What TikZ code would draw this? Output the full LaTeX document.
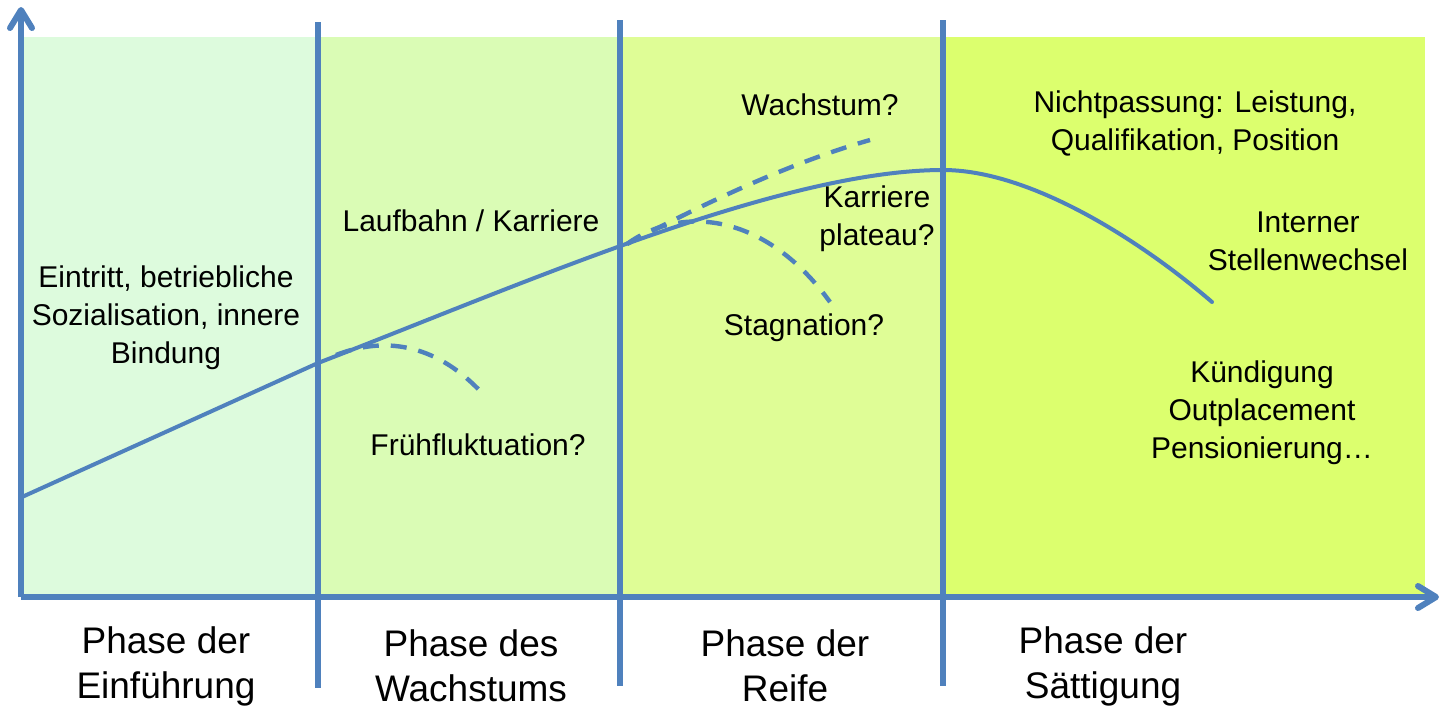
\documentclass[tikz,border=0pt]{standalone}
\usepackage{fontspec}
\setmainfont{Liberation Sans}
\usetikzlibrary{arrows.meta}
\definecolor{lineblue}{HTML}{4F81BD}
\definecolor{zoneA}{RGB}{221,251,221}
\definecolor{zoneB}{RGB}{218,252,181}
\definecolor{zoneC}{RGB}{223,253,150}
\definecolor{zoneD}{RGB}{220,255,110}
\tikzset{
  axis/.style={draw=lineblue, line width=3pt, -{Straight Barb[length=9pt,width=11pt,line cap=round,line join=round]}},
  divider/.style={draw=lineblue, line width=2.7pt},
  maincurve/.style={draw=lineblue, line width=2pt},
  dashcurve/.style={draw=lineblue, line width=2.2pt, dash pattern=on 8pt off 6pt},
  lbl/.style={font=\fontsize{15}{19}\selectfont, align=center, inner sep=0pt, text=black},
  phase/.style={font=\fontsize{18.5}{22.5}\selectfont, align=center, inner sep=0pt, text=black},
}
\begin{document}
\begin{tikzpicture}[x=0.5pt,y=-0.5pt]
\useasboundingbox (0,0) rectangle (1441,709);
% zones
\fill[zoneA] (21,37) rectangle (318,597);
\fill[zoneB] (318,37) rectangle (620,597);
\fill[zoneC] (620,37) rectangle (943,597);
\fill[zoneD] (943,37) rectangle (1425,597);
% dividers
\coordinate (v1t) at (318,22); \coordinate (v1b) at (318,688);
\coordinate (v2t) at (620,20); \coordinate (v2b) at (620,686);
\coordinate (v3t) at (943,20); \coordinate (v3b) at (943,686);
\draw[divider] (v1t) -- (v1b);
\draw[divider] (v2t) -- (v2b);
\draw[divider] (v3t) -- (v3b);
% axes
\coordinate (O) at (21,597);
\coordinate (ytip) at (21,7);
\coordinate (xtip) at (1439,597);
\draw[axis] (O) -- (ytip);
\draw[axis] (O) -- (xtip);
% main curve
\coordinate (c0) at (22,497);
\coordinate (c1) at (318,363);
\coordinate (c2) at (943,170);
\coordinate (c3) at (1212,302);
\draw[maincurve, line cap=round] (c0) -- (c1)
  .. controls (520,285) and (780,170) .. (c2)
  .. controls (1030,170) and (1140,240) .. (c3);
% dashed branches
\coordinate (b1s) at (336,355); \coordinate (b1e) at (482,393);
\coordinate (b2s) at (627,244); \coordinate (b2e) at (830,302);
\coordinate (b3s) at (627,244); \coordinate (b3e) at (870,140);
\draw[dashcurve] (b1s) .. controls (390,334) and (440,348) .. (b1e);
\draw[dashcurve] (b2s) .. controls (680,205) and (765,212) .. (b2e);
\draw[dashcurve] (b3s) .. controls (720,195) and (800,160) .. (b3e);
% labels
\node[lbl] (t1) at (166,318) {Eintritt, betriebliche\\Sozialisation, innere\\Bindung};
\node[lbl] (t2) at (471,221) {Laufbahn / Karriere};
\node[lbl] (t3) at (478,445) {Frühfluktuation?};
\node[lbl] (t4) at (820,105) {Wachstum?};
\node[lbl] (t5) at (877,219) {Karriere\\plateau?};
\node[lbl] (t6) at (804,328) {Stagnation?};
\node[lbl] (t7) at (1195,123) {Nichtpassung: Leistung,\\Qualifikation, Position};
\node[lbl] (t8) at (1308,241) {Interner\\Stellenwechsel};
\node[lbl] (t9) at (1262,413) {Kündigung\\Outplacement\\Pensionierung…};
% phases
\node[phase] (p1) at (166,666) {Phase der\\Einführung};
\node[phase] (p2) at (471,666) {Phase des\\Wachstums};
\node[phase] (p3) at (785,666) {Phase der\\Reife};
\node[phase] (p4) at (1103,666) {Phase der\\Sättigung};
\end{tikzpicture}
\end{document}
